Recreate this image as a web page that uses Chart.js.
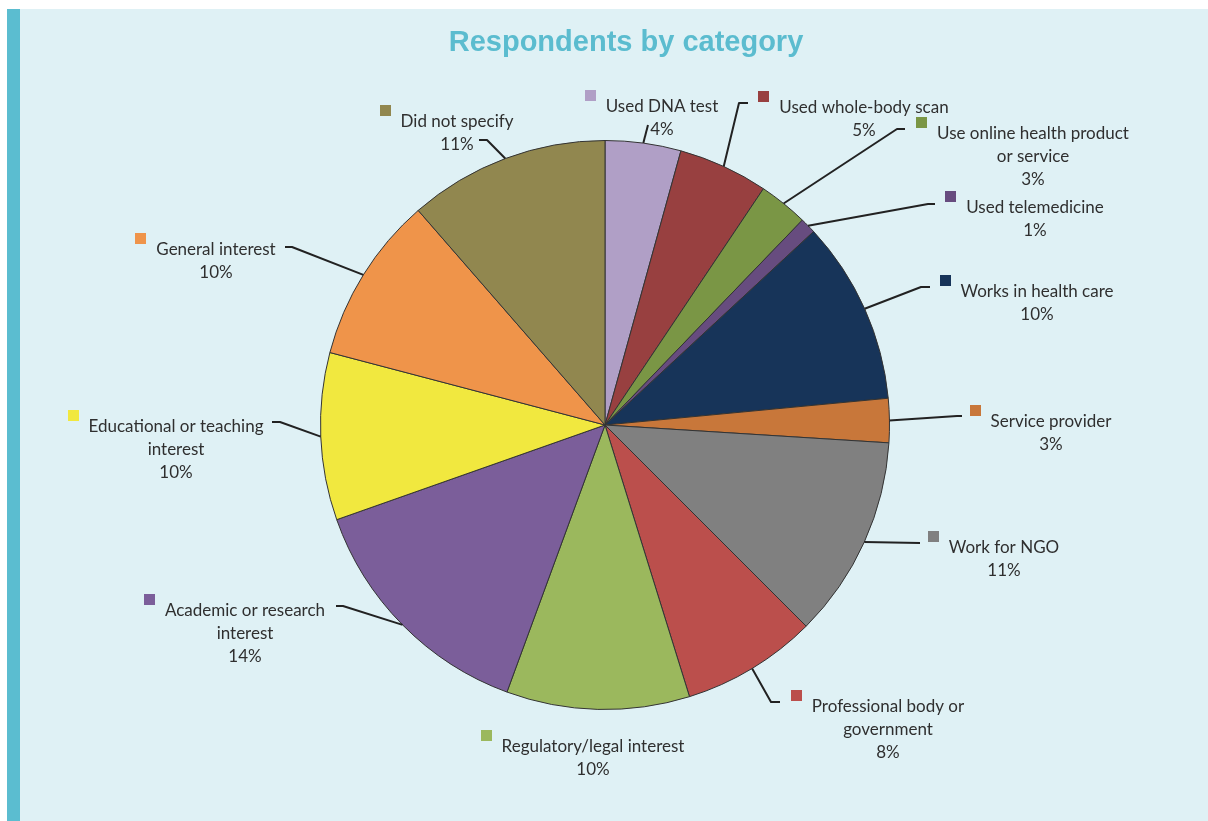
<!DOCTYPE html>
<html>
<head>
<meta charset="utf-8">
<title>Respondents by category</title>
<script src="https://cdn.jsdelivr.net/npm/chart.js@4.4.1/dist/chart.umd.min.js"></script>
<style>
  html, body { margin: 0; padding: 0; background: #fff; overflow: hidden; }
  #frame {
    position: absolute; left: 7px; top: 9px; width: 1201px; height: 812px;
    background: #dff1f5; border-left: 13px solid #5bbdd0; box-sizing: border-box;
  }
  #wrap { position: absolute; left: 0; top: 0; width: 1208px; height: 821px; }
</style>
</head>
<body>
<div id="frame"></div>
<div id="wrap"><canvas id="myChart"></canvas></div>
<script>
// categories, clockwise from 12 o'clock
const categories = [
  ['Used DNA test'],
  ['Used whole-body scan'],
  ['Use online health product', 'or service'],
  ['Used telemedicine'],
  ['Works in health care'],
  ['Service provider'],
  ['Work for NGO'],
  ['Professional body or', 'government'],
  ['Regulatory/legal interest'],
  ['Academic or research', 'interest'],
  ['Educational or teaching', 'interest'],
  ['General interest'],
  ['Did not specify']
];
// slice shares (%)
const shares = [4.3, 5.1, 2.8, 0.9, 10.4, 2.5, 11.5, 7.7, 10.4, 14.0, 9.5, 9.5, 11.4];
// percentages as printed on the labels
const percentLabels = ['4%', '5%', '3%', '1%', '10%', '3%', '11%', '8%', '10%', '14%', '10%', '10%', '11%'];

const sliceColors = [
  '#b09fc6', '#984040', '#7a9645', '#674c7f', '#173459', '#c8773a', '#808080',
  '#bb4f4c', '#9bb85d', '#7b5e9a', '#f1e83f', '#ef944a', '#91874f'
];

// label placement, offsets from the pie centre: text = first line middle,
// elbow = where the leader bends, end = x of the short horizontal end
const labelSpots = [
  { text: [57, -318], elbow: [43, -300], end: 43 },
  { text: [259, -317], elbow: [134, -322], end: 143 },
  { text: [428, -291], elbow: [292, -296], end: 300 },
  { text: [430, -217], elbow: [323, -221], end: 330 },
  { text: [432, -133], elbow: [316, -138], end: 325 },
  { text: [446, -3], elbow: [352, -9], end: 357 },
  { text: [399, 123], elbow: [315, 118], end: 315 },
  { text: [283, 282], elbow: [166, 277], end: 175 },
  { text: [-12, 322], elbow: null },
  { text: [-360, 186], elbow: [-262, 181], end: -269 },
  { text: [-429, 2], elbow: [-325, -3], end: -333 },
  { text: [-389, -175], elbow: [-313, -178], end: -320 },
  { text: [-148, -303], elbow: [-118, -285], end: -126 }
];

const calloutPlugin = {
  id: 'callouts',
  afterDatasetsDraw: function (chart) {
    const ctx = chart.ctx;
    const arcs = chart.getDatasetMeta(0).data;
    ctx.save();

    // title
    ctx.font = 'bold 29px "Liberation Sans", Arial, sans-serif';
    ctx.fillStyle = '#5bbccf';
    ctx.textAlign = 'center';
    ctx.textBaseline = 'middle';
    ctx.fillText('Respondents by category', 626, 43);

    arcs.forEach(function (arc, i) {
      const spot = labelSpots[i];
      const cx = arc.x, cy = arc.y;
      const mid = (arc.startAngle + arc.endAngle) / 2;
      const r = arc.outerRadius;

      if (spot.elbow) {
        ctx.beginPath();
        ctx.strokeStyle = '#222';
        ctx.lineWidth = 2;
        ctx.lineJoin = 'round';
        ctx.moveTo(cx + Math.cos(mid) * r, cy + Math.sin(mid) * r);
        ctx.lineTo(cx + spot.elbow[0], cy + spot.elbow[1]);
        ctx.lineTo(cx + spot.end, cy + spot.elbow[1]);
        ctx.stroke();
      }

      const lines = categories[i].concat([percentLabels[i]]);
      const tx = cx + spot.text[0];
      const ty = cy + spot.text[1];
      ctx.font = '17px Lato, "Open Sans", sans-serif';
      ctx.fillStyle = '#2f2f2f';
      ctx.textAlign = 'center';
      ctx.textBaseline = 'middle';
      let w = 0;
      lines.forEach(function (line, k) {
        w = Math.max(w, ctx.measureText(line).width);
        ctx.fillText(line, tx, ty + k * 23);
      });
      // legend key square
      ctx.fillStyle = sliceColors[i];
      ctx.fillRect(Math.round(tx - w / 2 - 21), Math.round(ty - 17), 11, 11);
    });
    ctx.restore();
  }
};

let myChart = document.getElementById('myChart').getContext('2d');
let pieChart = new Chart(myChart, {
  type: 'pie',
  data: {
    labels: categories.map(function (c) { return c.join(' '); }),
    datasets: [{
      data: shares,
      backgroundColor: sliceColors,
      borderColor: '#333',
      borderWidth: 1
    }]
  },
  options: {
    responsive: true,
    maintainAspectRatio: false,
    animation: false,
    layout: {
      padding: { left: 320, right: 318, top: 140, bottom: 111 }
    },
    plugins: {
      legend: { display: false },
      tooltip: { enabled: false },
      title: { display: false }
    }
  },
  plugins: [calloutPlugin]
});
</script>
</body>
</html>
